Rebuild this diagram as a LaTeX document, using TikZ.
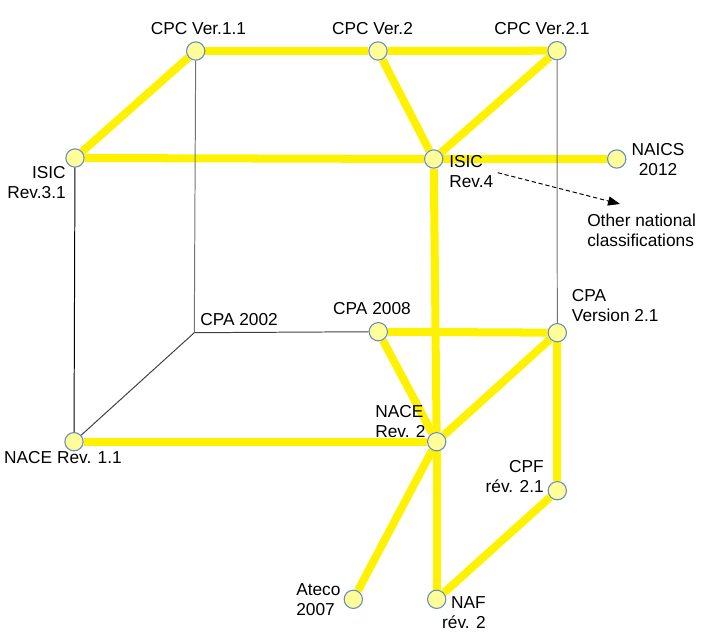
\documentclass[tikz,border=0pt]{standalone}
\usepackage{fontspec}
\setmainfont{Liberation Sans}
\usepackage{tikz}
\usetikzlibrary{arrows.meta,calc,backgrounds}
\definecolor{classfill}{HTML}{FFFF99}
\definecolor{classline}{HTML}{6C8EBF}
\tikzset{class/.style={circle,draw=classline,fill=classfill,line width=0.8pt,minimum size=13pt,inner sep=0pt},
	link/.style={yellow,line width=5.7pt},
	thin link/.style={line width=0.7pt}}

\begin{document}
\begin{tikzpicture}[x=0.025cm,y=-0.025cm,font=\fontsize{12.3}{14.2}\selectfont,every node/.append style={inner sep=0pt}]
	\useasboundingbox (0,0) rectangle (711,637);
	
	\node[class] (cpcA) at (195.7,51) {};
	\node[class] (cpcB) at (378,51) {};
	\node[class] (cpcC) at (557,50.7) {};
	\node[class] (isicA) at (75,158) {};
	\node[class] (isicB) at (433.7,159) {};
	\node[class] (naics) at (616.7,159) {};
	\coordinate (cpaA) at (194.3,332.7);
	\node[class] (cpaB) at (378.3,331.7) {};
	\node[class] (cpaC) at (557.3,332.7) {};
	\node[class] (naceA) at (74,441.7) {};
	\node[class] (naceB) at (436.7,441.7) {};
	\node[class] (cpf) at (557.3,490.7) {};
	\node[class] (ateco) at (353.3,599.3) {};
	\node[class] (naf) at (436.7,599.3) {};
	
	\node[anchor=base] (lcpcA) at (198.5,35) {CPC Ver.1.1};
	\node[anchor=base] (lcpcB) at (372.5,35) {CPC Ver.2};
	\node[anchor=base] (lcpcC) at (542,35) {CPC Ver.2.1};
	\node[anchor=north east,align=right] (lisicA) at (66,166) {ISIC\\Rev.3.1};
	\node[anchor=north west,align=left] (lisicB) at (449,155) {ISIC\\Rev.4};
	\node[anchor=north,align=center] (lnaics) at (658,142.7) {NAICS\\2012};
	\node[anchor=north west,align=left] (lother) at (587,213.3) {Other national\\classifications};
	\node[anchor=base west] (lcpaA) at (200,325) {CPA 2002};
	\node[anchor=base] (lcpaB) at (372,314.3) {CPA 2008};
	\node[anchor=north west,align=left] (lcpaC) at (571.7,289.3) {CPA\\Version 2.1};
	\node[anchor=base] (lnaceA) at (63,463.3) {NACE Rev. 1.1};
	\node[anchor=north west,align=left] (lnaceB) at (375,405) {NACE\\Rev. 2};
	\node[anchor=north east,align=right] (lcpf) at (544,460) {CPF\\rév. 2.1};
	\node[anchor=north west,align=left] (lateco) at (296,583.3) {Ateco\\2007};
	\node[anchor=north east,align=right] (lnaf) at (486,596.7) {NAF\\rév. 2};
	
	\coordinate (dashA) at (497.7,172.7);
	\coordinate (dashB) at (620,204);
	
	% thick links
	\begin{scope}[on background layer]
	\draw[link] (isicA) -- (cpcA);
	\draw[link] (cpcA) -- (cpcB);
	\draw[link] (cpcB) -- (cpcC);
	\draw[link] (cpcB) -- (isicB);
	\draw[link] (cpcC) -- (isicB);
	\draw[link] (isicA) -- (isicB);
	\draw[link] (isicB) -- (naics);
	\draw[link] (isicB) -- (naceB);
	\draw[link] (naceB) -- (naf);
	\draw[link] (cpaB) -- (cpaC);
	\draw[link] (cpaB) -- (naceB);
	\draw[link] (cpaC) -- (naceB);
	\draw[link] (cpaC) -- (cpf);
	\draw[link] (cpf) -- (naf);
	\draw[link] (naceA) -- (naceB);
	\draw[link] (naceB) -- (ateco);
	\end{scope}
	
	% thin links
	\draw[thin link,black!55] (cpcA) -- (cpaA);
	\draw[thin link,black!55] (cpcC) -- (cpaC);
	\draw[thin link,black] (isicA) -- (naceA);
	\draw[thin link,black!75] (cpaA) -- (cpaB);
	\draw[thin link,black!75] (cpaA) -- (naceA);
	
	\draw[thin link,dash pattern=on 3pt off 2pt,-{Triangle[length=8.5pt,width=6.5pt]}] (dashA) -- (dashB);
\end{tikzpicture}
\end{document}
